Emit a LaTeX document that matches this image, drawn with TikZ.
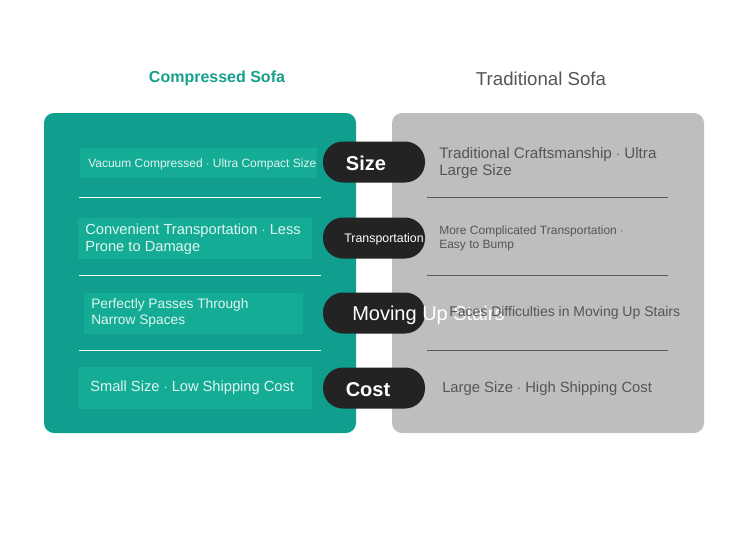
\documentclass[tikz,border=0pt]{standalone}
\usepackage{fontspec}
\setmainfont{Liberation Sans}
\definecolor{tealpanel}{RGB}{16,158,142}
\definecolor{tealbox}{RGB}{21,172,150}
\definecolor{tealhead}{RGB}{22,160,140}
\definecolor{minttext}{RGB}{224,246,240}
\definecolor{graypanel}{RGB}{190,190,190}
\definecolor{grayline}{RGB}{90,90,90}
\definecolor{graytext}{RGB}{85,85,85}
\definecolor{pilldark}{RGB}{35,35,35}
\tikzset{
  pill/.style={fill=pilldark, rounded corners=15pt, minimum width=76.5pt, minimum height=30.75pt, inner sep=0pt, text=white},
  lefttxt/.style={anchor=west, inner sep=0pt, align=left, text=minttext},
  righttxt/.style={anchor=west, inner sep=0pt, align=left, text=graytext}
}
\newcommand{\fs}[1]{\fontsize{#1}{1.15\dimexpr#1pt\relax}\selectfont}
\begin{document}
\begin{tikzpicture}[x=0.75pt, y=-0.75pt]
    \useasboundingbox (0,0) rectangle (750,544);
    \fill[white] (0,0) rectangle (750,544);
    \node[text=tealhead, font=\fs{12}\bfseries] (hleft) at (217,78) {Compressed Sofa};
    \node[text=graytext, font=\fs{14}] (hright) at (541,79) {Traditional Sofa};
    \fill[tealpanel, rounded corners=7.5pt] (44,113) rectangle (356,433);
    \fill[graypanel, rounded corners=7.5pt] (392,113) rectangle (704,433);
    \fill[tealbox] (80,148) rectangle (317,178);
    \fill[tealbox] (78,218) rectangle (312,259);
    \fill[tealbox] (84,293) rectangle (303,334);
    \fill[tealbox] (78,367) rectangle (312,409);
    \draw[white, line width=0.75pt] (79,197) -- (321,197);
    \draw[white, line width=0.75pt] (79,275) -- (321,275);
    \draw[white, line width=0.75pt] (79,350) -- (321,350);
    \draw[grayline, line width=0.75pt] (427,197) -- (668,197);
    \draw[grayline, line width=0.75pt] (427,275) -- (668,275);
    \draw[grayline, line width=0.75pt] (427,350) -- (668,350);
    \node[lefttxt, font=\fs{9}] (l1) at (88,164) {Vacuum Compressed $\cdot$ Ultra Compact Size};
    \node[lefttxt, font=\fs{11}] (l2) at (85,239) {Convenient Transportation $\cdot$ Less\\Prone to Damage};
    \node[lefttxt, font=\fs{10.3}] (l3) at (91,313) {Perfectly Passes Through\\Narrow Spaces};
    \node[lefttxt, font=\fs{11}] (l4) at (90,388) {Small Size $\cdot$ Low Shipping Cost};
    \node[pill] (psize) at (374,162) {};
    \node[pill] (ptrans) at (374,238) {};
    \node[pill] (pstairs) at (374,313) {};
    \node[pill] (pcost) at (374,388) {};
    \node[text=white, font=\fs{15}\bfseries] (tsize) at (366,163) {Size};
    \node[text=white, font=\fs{9.3}, anchor=west, inner sep=0pt] (ttrans) at (344,239) {Transportation};
    \node[text=white, font=\fs{15}, anchor=west, inner sep=0pt] (tstairs) at (352,315) {Moving Up Stairs};
    \node[text=white, font=\fs{15}\bfseries] (tcost) at (368,390) {Cost};
    \node[righttxt, font=\fs{11.4}] (r1) at (439,163) {Traditional Craftsmanship $\cdot$ Ultra\\Large Size};
    \node[righttxt, font=\fs{9}] (r2) at (439,238) {More Complicated Transportation $\cdot$\\Easy to Bump};
    \node[righttxt, font=\fs{10.5}] (r3) at (449,313) {Faces Difficulties in Moving Up Stairs};
    \node[righttxt, font=\fs{11.1}] (r4) at (442,389) {Large Size $\cdot$ High Shipping Cost};
\end{tikzpicture}
\end{document}
